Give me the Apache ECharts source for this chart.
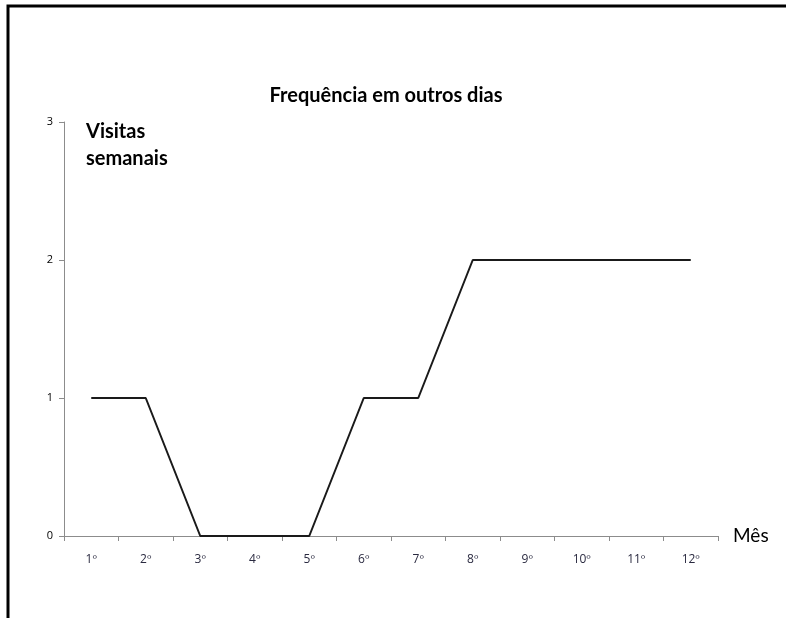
<!DOCTYPE html>
<html>
<head>
<meta charset="utf-8">
<script src="https://cdn.jsdelivr.net/npm/echarts@6/dist/echarts.min.js"></script>
<style>
  html, body { margin: 0; padding: 0; background: #fff; }
  #chart { width: 786px; height: 618px; }
</style>
</head>
<body>
<div id="chart"></div>
<script>
// Months of follow-up and weekly visits on other days
const months = ['1º', '2º', '3º', '4º', '5º', '6º', '7º', '8º', '9º', '10º', '11º', '12º'];
const weeklyVisits = [1, 1, 0, 0, 0, 1, 1, 2, 2, 2, 2, 2];
const yTicks = [0, 1, 2, 3];

const chart = echarts.init(document.getElementById('chart'), null, { renderer: 'canvas' });
const axisGray = '#8c8c8c';
const fontFamily = 'Lato, "Open Sans", sans-serif';

chart.setOption({
  animation: false,
  backgroundColor: '#ffffff',
  title: {
    text: 'Frequência em outros dias',
    left: 381,
    textAlign: 'center',
    top: 81,
    textStyle: { fontFamily: fontFamily, fontSize: 20, fontWeight: 'bold', color: '#000' }
  },
  grid: { left: 64, right: 68, top: 122, bottom: 82, containLabel: false },
  xAxis: {
    type: 'category',
    data: months,
    boundaryGap: true,
    name: 'Mês',
    nameLocation: 'end',
    nameGap: 15,
    nameTextStyle: { fontFamily: fontFamily, fontSize: 19, color: '#000', verticalAlign: 'middle' },
    axisLine: { lineStyle: { color: axisGray, width: 1 } },
    axisTick: { show: true, alignWithLabel: false, length: 5, lineStyle: { color: axisGray } },
    axisLabel: { margin: 18, fontFamily: '"Open Sans", sans-serif', fontSize: 12, color: '#2a2a40' },
    splitLine: { show: false }
  },
  yAxis: {
    type: 'value',
    min: yTicks[0],
    max: yTicks[yTicks.length - 1],
    interval: 1,
    axisLine: { show: true, lineStyle: { color: axisGray, width: 1 } },
    axisTick: { show: true, length: 5, lineStyle: { color: axisGray } },
    axisLabel: { margin: 11, fontFamily: '"Open Sans", sans-serif', fontSize: 11, color: '#000' },
    splitLine: { show: false }
  },
  series: [{
    type: 'line',
    data: weeklyVisits,
    symbol: 'none',
    lineStyle: { color: '#1a1a1a', width: 2 }
  }],
  graphic: [
    {
      type: 'text',
      left: 86,
      top: 118,
      style: {
        text: 'Visitas\nsemanais',
        font: 'bold 20px ' + fontFamily,
        lineHeight: 27,
        fill: '#000'
      }
    },
    {
      type: 'polyline',
      shape: { points: [[8, 618], [8, 6], [786, 6]] },
      style: { stroke: '#000', lineWidth: 3, fill: null }
    }
  ]
});
</script>
</body>
</html>
